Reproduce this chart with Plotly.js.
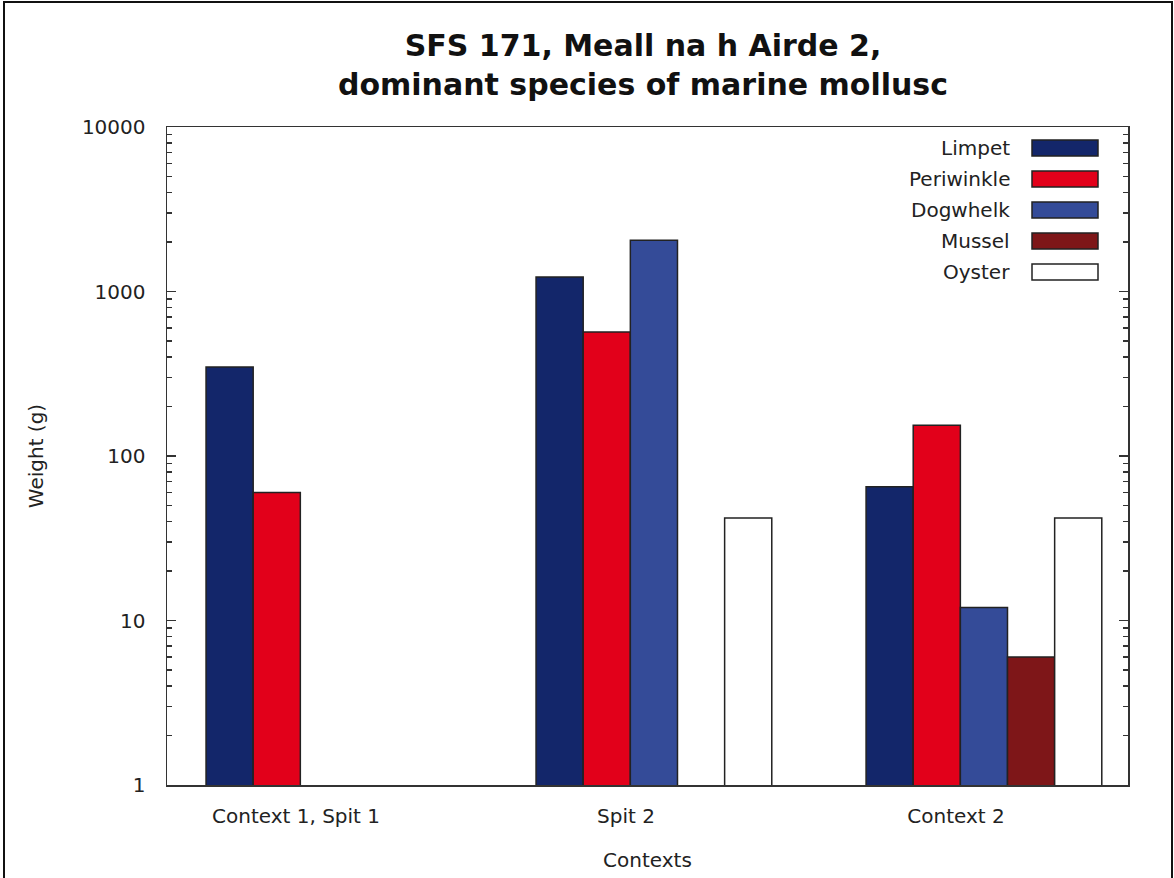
<!DOCTYPE html>
<html>
<head>
<meta charset="utf-8">
<script src="https://cdn.plot.ly/plotly-3.0.1.min.js"></script>
<style>
  html, body { margin: 0; padding: 0; background: #fff; overflow: hidden; }
  #chart { position: absolute; left: 0; top: 0; width: 1174px; height: 878px; }
  #frame { position: absolute; left: 3px; top: 1px; width: 1166px; height: 1000px;
           border: 2px solid #111; pointer-events: none; }
</style>
</head>
<body>
<div id="chart"></div>
<div id="frame"></div>
<script>
// ---- data ----
const categories = ["Context 1, Spit 1", "Spit 2", "Context 2"];
const seriesNames = ["Limpet", "Periwinkle", "Dogwhelk", "Mussel", "Oyster"];
const limpet     = [348, 1225, 65];
const periwinkle = [60, 567, 154];
const dogwhelk   = [null, 2050, 12];
const mussel     = [null, null, 6];
const oyster     = [null, 42, 42];
const yTickVals  = [1, 10, 100, 1000, 10000];
const yTickText  = ["1", "10", "100", "1000", "10000"];

// ---- styles ----
const seriesValues = [limpet, periwinkle, dogwhelk, mussel, oyster];
const colors = ["#13266a", "#e2001a", "#344b98", "#7e1618", "#ffffff"];
const font = "DejaVu Sans, sans-serif";
const textColor = "#222";
const barWidth = 1 / 7;
const firstOffset = -0.2727;

const xPos = categories.map((c, i) => i);

const traces = seriesNames.map((name, s) => ({
  type: "bar",
  name: name,
  x: xPos,
  y: seriesValues[s],
  width: barWidth,
  offset: firstOffset + s * barWidth,
  marker: { color: colors[s], line: { color: "#222", width: 1.5 } },
  showlegend: false,
  hoverinfo: "x+y+name"
}));

// plot area in pixels
const L = 167, R = 1128, T = 127, B = 785;
const W = 1174, H = 878;
const px = v => (v - L) / (R - L);
const py = v => (B - v) / (B - T);

// custom legend: text right-aligned, swatch to the right
const shapes = [];
const annotations = [];
const rowY0 = 148, rowStep = 31;
seriesNames.forEach((name, s) => {
  const cy = rowY0 + s * rowStep;
  shapes.push({
    type: "rect", xref: "paper", yref: "paper",
    x0: px(1032), x1: px(1098), y0: py(cy + 8), y1: py(cy - 8),
    fillcolor: colors[s], line: { color: "#222", width: 1.5 }
  });
  annotations.push({
    xref: "paper", yref: "paper", x: px(1012), y: py(cy),
    xanchor: "right", yanchor: "middle", showarrow: false,
    text: name, font: { family: font, size: 20, color: textColor }
  });
});

const layout = {
  width: W, height: H,
  margin: { l: L, r: W - R, t: T, b: H - B },
  paper_bgcolor: "#fff", plot_bgcolor: "#fff",
  barmode: "overlay",
  title: {
    text: "SFS 171, Meall na h Airde 2,<br>dominant species of marine mollusc",
    font: { family: font, size: 30, color: "#111", weight: "bold" },
    x: 643 / W, xanchor: "center",
    y: 1 - 56 / H, yanchor: "top", yref: "container"
  },
  xaxis: {
    type: "linear",
    range: [-0.391, 2.521],
    tickvals: xPos, ticktext: categories,
    ticks: "", showgrid: false, zeroline: false,
    showline: true, linecolor: "#333", linewidth: 1.5, mirror: true,
    ticklabelstandoff: 12,
    tickfont: { family: font, size: 20, color: textColor },
    title: { text: "Contexts", font: { family: font, size: 20, color: textColor }, standoff: 26 }
  },
  yaxis: {
    type: "log",
    range: [0, 4],
    tickvals: yTickVals, ticktext: yTickText,
    ticks: "inside", ticklen: 9, tickwidth: 1.5, tickcolor: "#333",
    minor: { ticks: "inside", ticklen: 5, tickwidth: 1.5, tickcolor: "#333", dtick: "D1" },
    showgrid: false, zeroline: false,
    showline: true, linecolor: "#333", linewidth: 1.5, mirror: "ticks",
    ticklabelstandoff: 16,
    tickfont: { family: font, size: 20, color: textColor },
    title: { text: "Weight (g)", font: { family: font, size: 20, color: textColor }, standoff: 33 }
  },
  shapes: shapes,
  annotations: annotations
};

Plotly.newPlot("chart", traces, layout, { displayModeBar: false, staticPlot: true });
</script>
</body>
</html>
